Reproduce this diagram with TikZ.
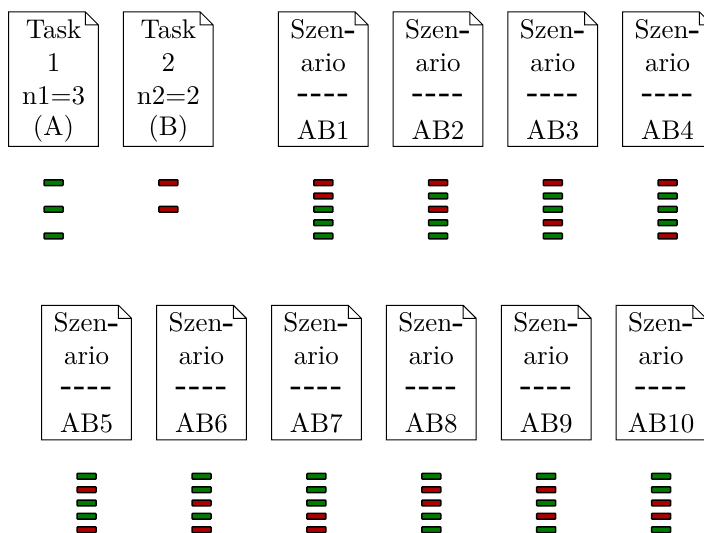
\documentclass[tikz,border=0pt]{standalone}
\usepackage{graphicx}
\definecolor{gbar}{RGB}{0,125,0}
\definecolor{rbar}{RGB}{175,0,0}
\newcommand{\docfirst}{\rule{0pt}{10.24pt}}
\newcommand{\doclast}[1]{\rule[-#1]{0pt}{#1}}
\newcommand{\dsh}{\scalebox{1.15}[1]{\textbf{-}}}
\newcommand{\dshline}{\dsh\kern0.6pt\dsh\kern0.6pt\dsh\kern0.6pt\dsh}
\begin{document}
\begin{tikzpicture}[x=0.4pt,y=-0.4pt,
  doc/.style={minimum width=35.5pt, minimum height=53.4pt, inner sep=0pt, align=center, font=\fontsize{10.8}{12.96}\selectfont},
  docline/.style={draw=black, line width=0.4pt},
  bar/.style={draw=black, line width=0.6pt, rounded corners=0.3pt, minimum width=7.6pt, minimum height=2.3pt, inner sep=0pt},
  bar-g/.style={bar, fill=gbar},
  bar-r/.style={bar, fill=rbar}]
\useasboundingbox (0,0) rectangle (704,532);
% task documents
\node[doc] (t1) at (53.6,79.2) {\docfirst Task\\[0.4pt]1\\[0.36pt]n1=3\\[-0.56pt](A)\doclast{4.08pt}};
\node[doc] (t2) at (168.35,79.2) {\docfirst Task\\[0.4pt]2\\[0.36pt]n2=2\\[-0.56pt](B)\doclast{4.08pt}};
% scenario documents
\foreach \n/\x/\y/\lab in {s1/323.3/79.2/AB1, s2/438.05/79.2/AB2, s3/552.8/79.2/AB3, s4/667.55/79.2/AB4,
  s5/86.6/372.5/AB5, s6/201.5/372.5/AB6, s7/316.4/372.5/AB7, s8/431.3/372.5/AB8, s9/546.2/372.5/AB9, s10/661.1/372.5/AB10}
  \node[doc] (\n) at (\x,\y) {\docfirst Szen\dsh\\[0.4pt]ario\\[-1.04pt]\dshline\\[2.16pt]\lab\doclast{2.76pt}};
% outlines with folded corner
\foreach \n in {t1,t2,s1,s2,s3,s4,s5,s6,s7,s8,s9,s10}
  \draw[docline] (\n.south west) -- (\n.north west) -- ([xshift=-5.2pt]\n.north east)
    -- ([yshift=-5.2pt]\n.north east) -- (\n.south east) -- cycle
    ([xshift=-5.2pt]\n.north east) |- ([yshift=-5.2pt]\n.north east);
% task bars
\foreach \k in {1,2,3} \node[bar-g] (bt1-\k) at (53.6,{182.7+26.65*(\k-1)}) {};
\foreach \k in {1,2} \node[bar-r] (bt2-\k) at (168.35,{182.7+26.65*(\k-1)}) {};
% scenario bars
\foreach \d/\x/\y/\pat in {
  s1/323.3/182.7/{r,r,g,g,g}, s2/438.05/182.7/{r,g,r,g,g}, s3/552.8/182.7/{r,g,g,r,g}, s4/667.55/182.7/{r,g,g,g,r},
  s5/86.6/476.3/{g,r,g,g,r}, s6/201.5/476.3/{g,g,r,g,r}, s7/316.4/476.3/{g,g,g,r,r},
  s8/431.3/476.3/{g,r,r,g,g}, s9/546.2/476.3/{g,r,g,r,g}, s10/661.1/476.3/{g,g,r,r,g}}
  \foreach \c [count=\k] in \pat
    \node[bar-\c] (b\d-\k) at (\x,{\y+13.33*(\k-1)}) {};
\end{tikzpicture}
\end{document}
